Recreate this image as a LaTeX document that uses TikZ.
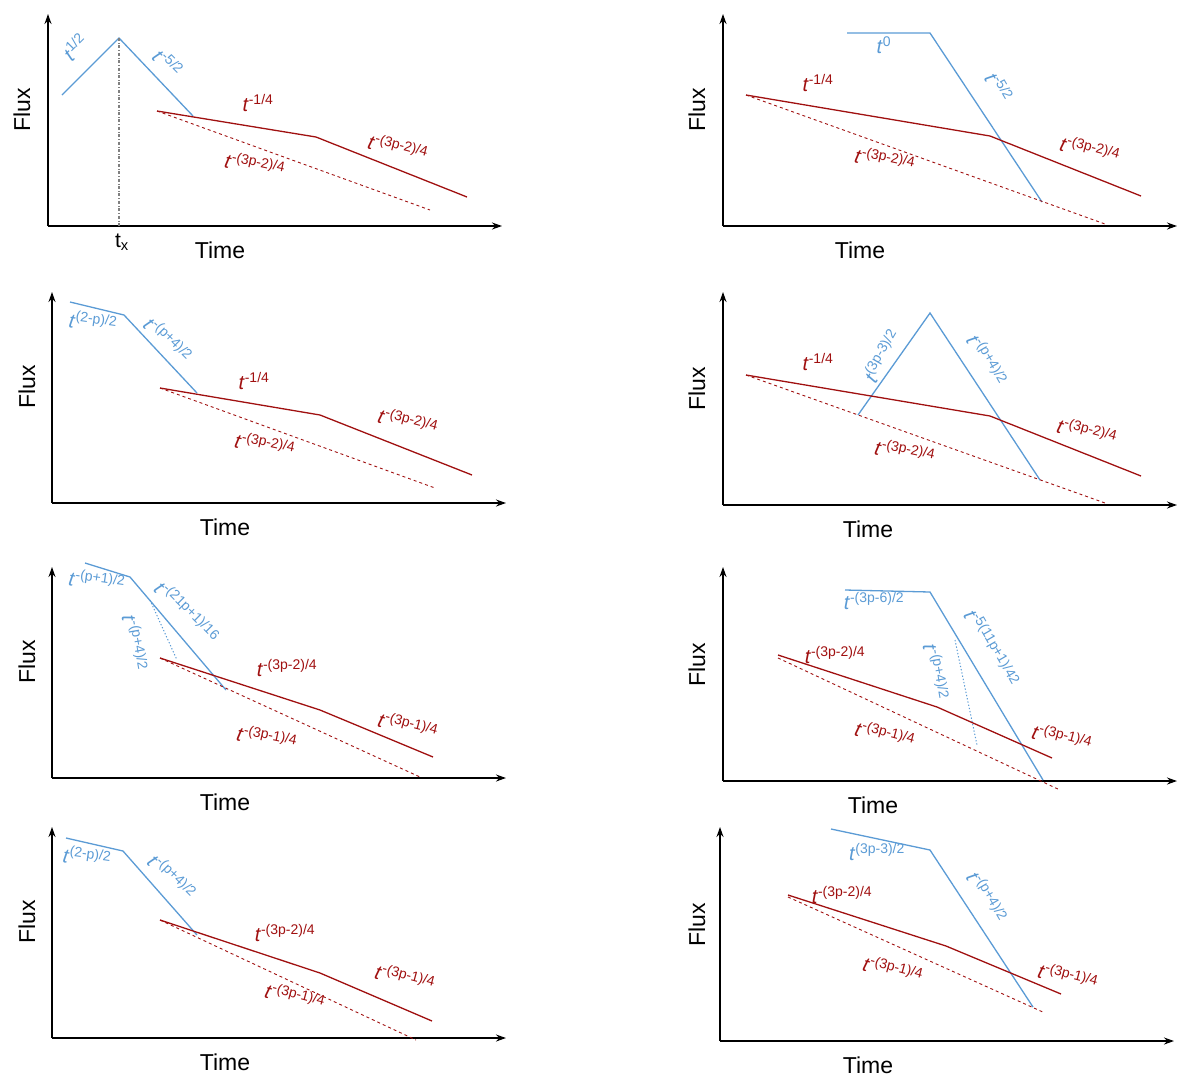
\documentclass[tikz,border=0pt]{standalone}
\usepackage{fontspec}
\setmainfont{Liberation Sans}
\usetikzlibrary{arrows.meta}
\newcommand{\tp}[1]{\textit{t}\textsuperscript{#1}}

\begin{document}
\begin{tikzpicture}[x=1pt,y=-1pt,>={Stealth[length=10pt,width=7pt]},
	axis/.style={->,line width=1.4pt},
	blu/.style={color={rgb,255:red,91;green,155;blue,213},line width=1.3pt},
	rd/.style={color={rgb,255:red,160;green,16;blue,16},line width=1.3pt},
	bl/.style={text={rgb,255:red,91;green,155;blue,213},font=\fontsize{20}{22}\selectfont,inner sep=0pt},
	rl/.style={text={rgb,255:red,160;green,16;blue,16},font=\fontsize{20}{22}\selectfont,inner sep=0pt},
	lab/.style={font=\fontsize{23}{26}\selectfont,inner sep=0pt}
	]
	\useasboundingbox (0,0) rectangle (1189,1085);

	% axes: origin x, origin y, top y
	\foreach \ox/\oy/\ty/\tx/\fx in {48/226/14/220/22,723/226/14/860/697,52/503/292/225/27,723/505/292/868/697,52/778/567/225/27,723/781/567/873/697,52/1038/827/225/27,720/1041/827/868/697}{
		\draw[axis] (\ox,\oy) -- (\ox,\ty);
		\draw[axis] (\ox,\oy) -- (\ox+454,\oy);
		\node[lab] at (\tx,\oy+24) {Time};
		\node[lab,rotate=90] at (\fx,\oy-116) {Flux};
	}

	% panel 1
	\draw[blu] (62,95) -- (119,38) -- (193,116);
	\draw[gray,dash dot,line width=1.2pt] (119,38) -- (119,226);
	\draw[rd] (157,111) -- (316,137) -- (467,197);
	\draw[rd,dashed,line width=0.9pt] (157,111) -- (430,210);
	\node[bl,rotate=45] (a1) at (75,47) {\tp{1/2}};
	\node[bl,rotate=-45] (a2) at (168,63) {\tp{-5/2}};
	\node[rl] (a3) at (258,103) {\tp{-1/4}};
	\node[rl,rotate=-15] (a4) at (398,148) {\tp{-(3p-2)/4}};
	\node[rl,rotate=-12] (a5) at (255,165) {\tp{-(3p-2)/4}};
	\node[font=\fontsize{21}{23}\selectfont,inner sep=0pt] (a6) at (122,242) {t\textsubscript{x}};

	% panel 2
	\draw[blu] (847,33) -- (930,33) -- (1042,202);
	\draw[rd] (746,95) -- (990,136) -- (1141,196);
	\draw[rd,dashed,line width=0.9pt] (746,95) -- (1105,224);
	\node[bl] (b1) at (884,45) {\tp{0}};
	\node[bl,rotate=-60] (b2) at (999,87) {\tp{-5/2}};
	\node[rl] (b3) at (818,83) {\tp{-1/4}};
	\node[rl,rotate=-15] (b4) at (1090,150) {\tp{-(3p-2)/4}};
	\node[rl,rotate=-12] (b5) at (885,160) {\tp{-(3p-2)/4}};

	% panel 3
	\draw[blu] (70,302) -- (124,315) -- (197,393);
	\draw[rd] (160,388) -- (320,415) -- (472,475);
	\draw[rd,dashed,line width=0.9pt] (160,388) -- (435,488);
	\node[bl,rotate=-8] (c1) at (93,322) {\tp{(2-p)/2}};
	\node[bl,rotate=-45] (c2) at (168,340) {\tp{-(p+4)/2}};
	\node[rl] (c3) at (254,381) {\tp{-1/4}};
	\node[rl,rotate=-15] (c4) at (408,422) {\tp{-(3p-2)/4}};
	\node[rl,rotate=-12] (c5) at (265,445) {\tp{-(3p-2)/4}};

	% panel 4
	\draw[blu] (858,415) -- (930,313) -- (1040,480);
	\draw[rd] (746,375) -- (990,416) -- (1141,476);
	\draw[rd,dashed,line width=0.9pt] (746,375) -- (1105,503);
	\node[bl,rotate=60] (d1) at (882,356) {\tp{(3p-3)/2}};
	\node[bl,rotate=-60] (d2) at (987,360) {\tp{-(p+4)/2}};
	\node[rl] (d3) at (818,362) {\tp{-1/4}};
	\node[rl,rotate=-15] (d4) at (1087,432) {\tp{-(3p-2)/4}};
	\node[rl,rotate=-12] (d5) at (905,452) {\tp{-(3p-2)/4}};

	% panel 5
	\draw[blu] (85,563) -- (130,577) -- (226,690);
	\draw[blu,dotted,line width=1pt] (150,600) -- (177,660);
	\draw[rd] (160,658) -- (320,710) -- (433,757);
	\draw[rd,dashed,line width=0.9pt] (160,658) -- (420,777);
	\node[bl,rotate=-8] (e1) at (97,581) {\tp{-(p+1)/2}};
	\node[bl,rotate=-45] (e2) at (187,612) {\tp{-(21p+1)/16}};
	\node[bl,rotate=-80] (e3) at (135,643) {\tp{-(p+4)/2}};
	\node[rl] (e4) at (287,668) {\tp{-(3p-2)/4}};
	\node[rl,rotate=-15] (e5) at (408,726) {\tp{-(3p-1)/4}};
	\node[rl,rotate=-12] (e6) at (267,738) {\tp{-(3p-1)/4}};

	% panel 6
	\draw[blu] (845,590) -- (930,592) -- (1043,780);
	\draw[blu,dotted,line width=1pt] (955,640) -- (977,745);
	\draw[rd] (778,655) -- (937,707) -- (1052,758);
	\draw[rd,dashed,line width=0.9pt] (778,658) -- (1060,790);
	\node[bl] (f1) at (874,601) {\tp{-(3p-6)/2}};
	\node[bl,rotate=-60] (f2) at (992,648) {\tp{-5(11p+1)/42}};
	\node[bl,rotate=-80] (f3) at (936,672) {\tp{-(p+4)/2}};
	\node[rl] (f4) at (835,655) {\tp{-(3p-2)/4}};
	\node[rl,rotate=-15] (f5) at (1062,738) {\tp{-(3p-1)/4}};
	\node[rl,rotate=-15] (f6) at (885,735) {\tp{-(3p-1)/4}};

	% panel 7
	\draw[blu] (66,838) -- (123,851) -- (197,935);
	\draw[rd] (160,920) -- (320,973) -- (432,1021);
	\draw[rd,dashed,line width=0.9pt] (160,920) -- (416,1040);
	\node[bl,rotate=-8] (g1) at (87,857) {\tp{(2-p)/2}};
	\node[bl,rotate=-45] (g2) at (172,877) {\tp{-(p+4)/2}};
	\node[rl] (g3) at (285,933) {\tp{-(3p-2)/4}};
	\node[rl,rotate=-15] (g4) at (405,978) {\tp{-(3p-1)/4}};
	\node[rl,rotate=-15] (g5) at (295,997) {\tp{-(3p-1)/4}};

	% panel 8
	\draw[blu] (831,829) -- (930,850) -- (1033,1007);
	\draw[rd] (788,895) -- (946,946) -- (1061,994);
	\draw[rd,dashed,line width=0.9pt] (788,897) -- (1045,1013);
	\node[bl] (h1) at (877,852) {\tp{(3p-3)/2}};
	\node[bl,rotate=-60] (h2) at (987,897) {\tp{-(p+4)/2}};
	\node[rl] (h3) at (842,895) {\tp{-(3p-2)/4}};
	\node[rl,rotate=-15] (h4) at (1068,977) {\tp{-(3p-1)/4}};
	\node[rl,rotate=-15] (h5) at (893,970) {\tp{-(3p-1)/4}};

\end{tikzpicture}
\end{document}
